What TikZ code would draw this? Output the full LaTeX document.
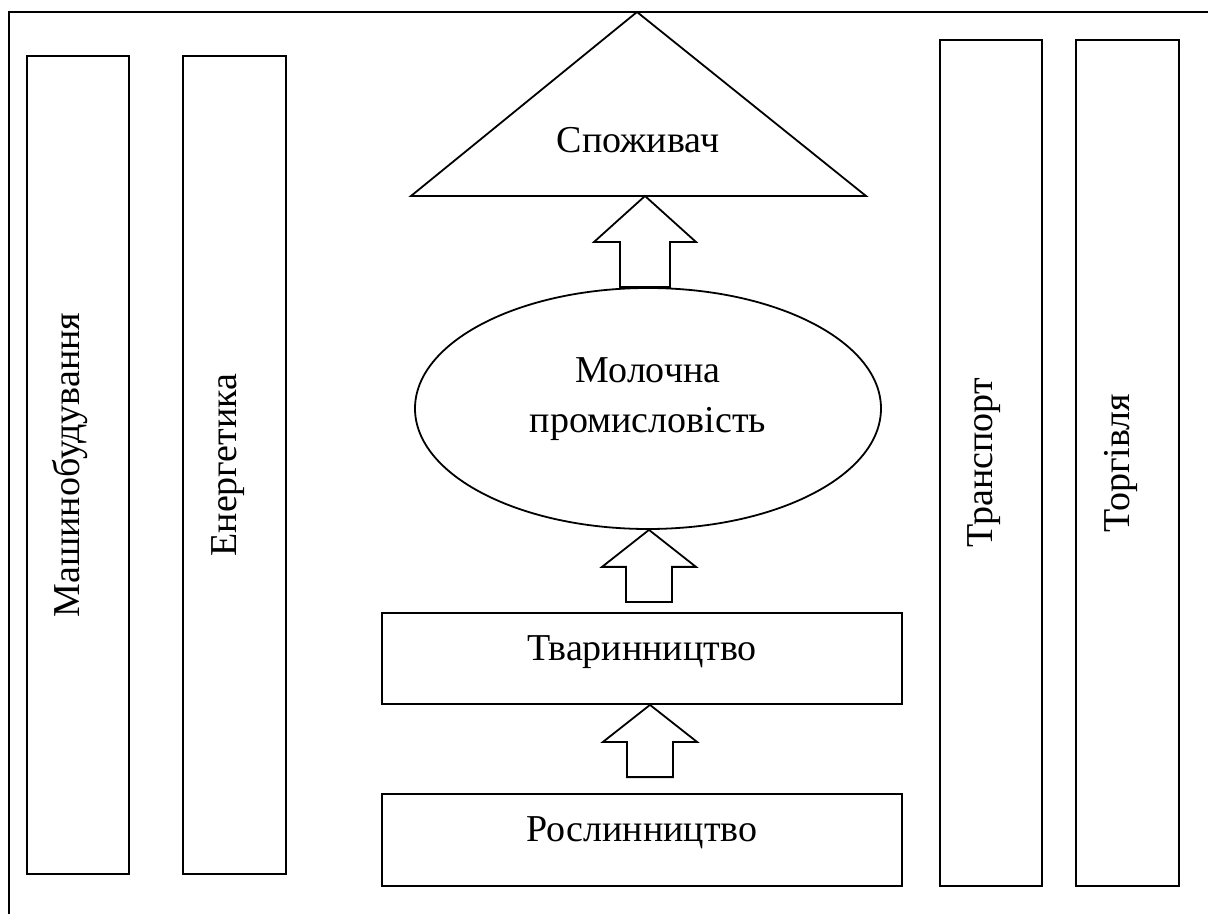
\documentclass[tikz,border=0pt]{standalone}
\usepackage{fontspec}
\setmainfont{Liberation Serif}
\usetikzlibrary{shapes.geometric, positioning, calc}

\tikzset{
  base font/.style={font=\fontsize{38pt}{50pt}\selectfont},
  frame line/.style={line width=1.8pt},
  sidebox/.style={draw, line width=1.8pt, base font, rotate=90, inner sep=0pt,
    text height=25pt, text depth=22pt},
  stagebox/.style={draw, line width=1.8pt, base font, inner sep=0pt,
    minimum width=520pt, text height=25pt, text depth=22pt},
  flowarrow/.style={draw, line width=1.8pt, fill=white, line join=miter}
}

% block arrow: tip, tail, head length, head half width, shaft half width
\newcommand{\blockarrow}[5]{%
  \path[flowarrow] let \p1=(#1), \p2=(#2) in
    (\x1,\y1) -- (\x1+#4,\y1-#3) -- (\x1+#5,\y1-#3) -- (\x1+#5,\y2)
    -- (\x1-#5,\y2) -- (\x1-#5,\y1-#3) -- (\x1-#4,\y1-#3) -- cycle;}

\begin{document}
\begin{tikzpicture}[x=1pt, y=1pt]
\useasboundingbox (0,0) rectangle (1208,914);
\draw[frame line] (9,0) -- (9,902) -- (1208,902);

% side branches
\node[sidebox, minimum width=818pt, minimum height=102pt] (mash) at (78,449) {Машинобудування};
\node[sidebox, minimum width=818pt, minimum height=103pt] (energ) at (234.5,449) {Енергетика};
\node[sidebox, minimum width=846pt, minimum height=102pt] (transp) at (991,451) {Транспорт};
\node[sidebox, minimum width=846pt, minimum height=103pt] (torg) at (1127.5,451) {Торгівля};

% consumer
\coordinate (apex) at (637,902);
\coordinate (bl) at (411,718);
\coordinate (br) at (866,718);
\coordinate (spozbase) at ($(bl)!0.5!(br)$);
\draw[frame line, line join=miter] (apex) -- (bl) -- (br) -- cycle;
\node[base font, anchor=base] (spoz) at (638,761) {Споживач};

% chain
\node[draw, ellipse, line width=1.8pt, base font, align=center, inner sep=0pt,
  minimum width=466pt, minimum height=241pt, text height=57pt, text depth=8pt]
  (mol) at (648,505.5) {Молочна\\промисловість};
\node[stagebox, minimum height=91pt] (tvar) at (642,255.5) {Тваринництво};
\node[stagebox, minimum height=92pt] (rosl) at (642,74) {Рослинництво};

\blockarrow{[xshift=6.5pt]spozbase}{mol.north}{46}{51}{25}
\blockarrow{[xshift=1pt]mol.south}{[yshift=10pt]tvar.north}{37}{47}{23}
\blockarrow{[xshift=8pt]tvar.south}{[yshift=16pt]rosl.north}{37}{47}{23}
\end{tikzpicture}
\end{document}
